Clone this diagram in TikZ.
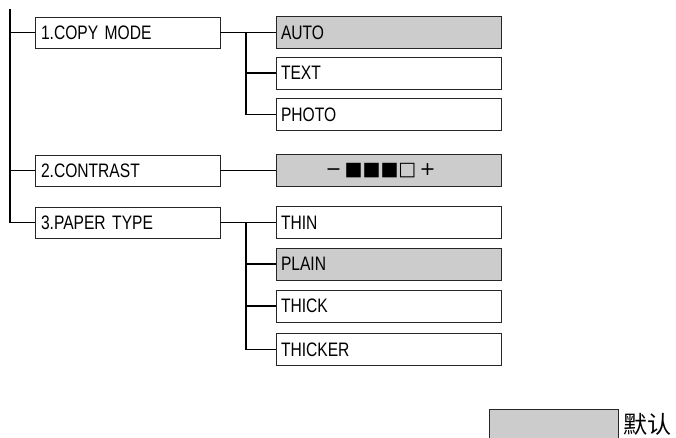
\documentclass[tikz,border=0pt]{standalone}
\usepackage{fontspec}
\setmainfont{Liberation Sans}[FakeStretch=0.8]
\newfontfamily\symfont{DejaVu Sans}
\newfontfamily\cjk{Noto Sans CJK SC}
\usetikzlibrary{positioning}

\begin{document}
\begin{tikzpicture}[x=1pt,y=-1pt]
\tikzset{
  menubox/.style={rectangle,draw=black!85,line width=0.8pt,minimum height=31pt,inner xsep=6pt,
    text width=173pt,align=left,font=\fontsize{19.5}{19.5}\selectfont},
  optbox/.style={rectangle,draw=black!85,line width=0.8pt,minimum height=32pt,inner xsep=5pt,
    text width=215pt,align=left,font=\fontsize{19.5}{19.5}\selectfont},
  default/.style={fill=black!20},
  conn/.style={line width=1.8pt,black}
}
\clip (0,0) rectangle (676,438);
\node[menubox] (n_copy) at (127.5,32.5) {1.COPY MODE};
\node[menubox] (n_contrast) at (127.5,170.5) {2.CONTRAST};
\node[menubox] (n_paper) at (127.5,222.5) {3.PAPER TYPE};
\node[optbox,default] (n_auto) at (388.5,32.5) {AUTO};
\node[optbox] (n_text) at (388.5,73) {TEXT};
\node[optbox] (n_photo) at (388.5,114.5) {PHOTO};
\node[optbox,default,align=center,font=\symfont\fontsize{19}{19}\selectfont] (n_level) at (388.5,170.5)
  {\hspace*{-16pt}\char"2212\,\char"25A0\char"25A0\char"25A0\char"25A1\,+};
\node[optbox] (n_thin) at (388.5,222.5) {THIN};
\node[optbox,default] (n_plain) at (388.5,264) {PLAIN};
\node[optbox] (n_thick) at (388.5,306) {THICK};
\node[optbox] (n_thicker) at (388.5,349.5) {THICKER};
\node[rectangle,draw=black!85,line width=0.8pt,default,minimum width=129pt,minimum height=40pt] (n_key) at (554,429) {};
\node[anchor=west,inner sep=0pt,font=\cjk\fontsize{24}{24}\selectfont] (n_keytext) at (623,424) {默认};
\coordinate (c_top) at (10,9);
\coordinate (j_copy) at (246,32.5);
\coordinate (j_paper) at (246,222.5);
\draw[conn] (c_top) -- (c_top |- n_paper.west) -- (n_paper.west);
\draw[conn] (n_copy.west) -- (n_copy.west -| c_top);
\draw[conn] (n_contrast.west) -- (n_contrast.west -| c_top);
\draw[conn] (n_copy.east) -- (n_auto.west);
\draw[conn] (j_copy) |- (n_text.west);
\draw[conn] (j_copy) |- (n_photo.west);
\draw[conn] (n_contrast.east) -- (n_level.west);
\draw[conn] (n_paper.east) -- (n_thin.west);
\draw[conn] (j_paper) |- (n_plain.west);
\draw[conn] (j_paper) |- (n_thick.west);
\draw[conn] (j_paper) |- (n_thicker.west);
\end{tikzpicture}
\end{document}
